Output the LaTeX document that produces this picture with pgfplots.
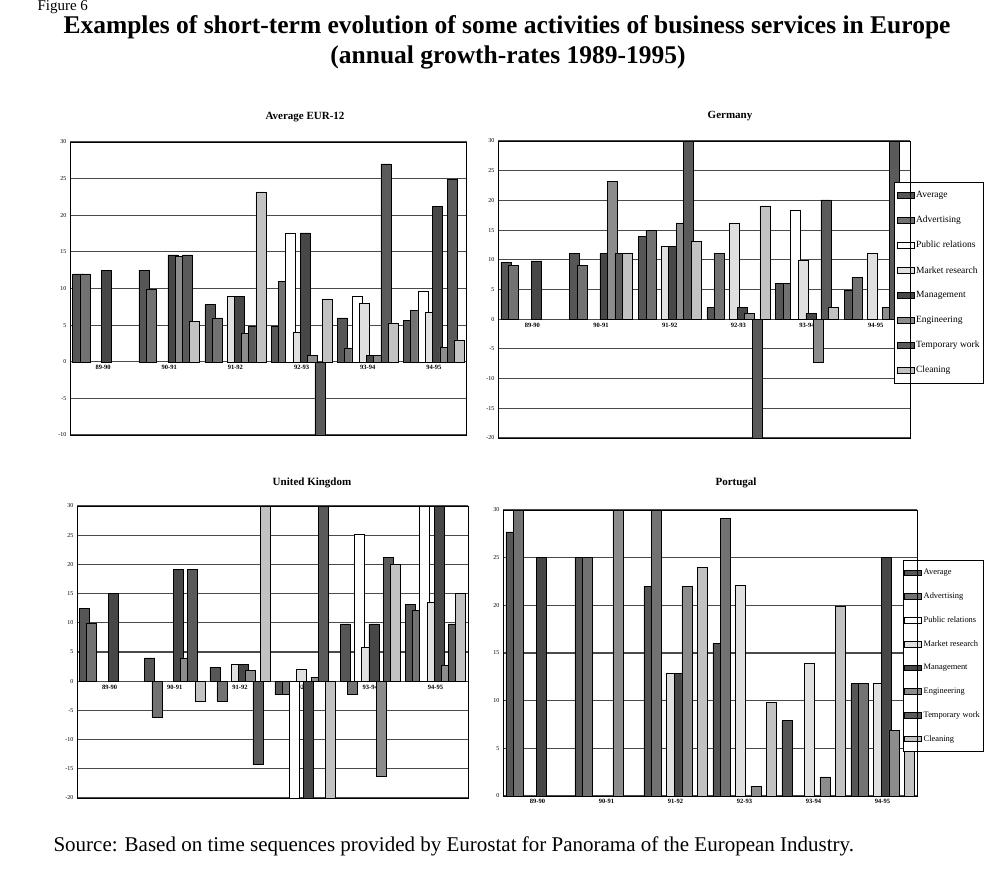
\documentclass[border=0pt]{standalone}
\usepackage{fontspec}
\setmainfont{Liberation Serif}
\usepackage{pgfplots}
\usepackage{pgfplotstable}
\pgfplotsset{compat=1.18}

\definecolor{cAvg}{HTML}{565656}
\definecolor{cAdv}{HTML}{727272}
\definecolor{cPR}{HTML}{FFFFFF}
\definecolor{cMR}{HTML}{E0E0E0}
\definecolor{cMgt}{HTML}{474747}
\definecolor{cEng}{HTML}{8C8C8C}
\definecolor{cTmp}{HTML}{5A5A5A}
\definecolor{cCln}{HTML}{C2C2C2}
\definecolor{gridc}{HTML}{4A4A4A}

% annual growth rates (%), rows = periods, nan = no bar
\pgfplotstableread{
x avg adv pr mr mgmt eng temp clean
0 12.0 12.0 nan nan 12.5 nan nan nan
1 12.5 9.9 nan nan 14.6 14.4 14.6 5.5
2 7.8 6.0 nan 8.9 8.9 3.9 4.8 23.2
3 4.8 11.0 17.6 4.0 17.6 0.9 -12.0 8.6
4 6.0 1.9 9.0 8.0 0.9 0.9 27.0 5.3
5 5.7 7.0 9.6 6.7 21.2 2.0 24.9 3.0
}\eur

\pgfplotstableread{
x avg adv pr mr mgmt eng temp clean
0 9.6 9.0 nan nan 9.8 nan nan nan
1 11.1 9.0 nan nan 11.1 23.2 11.1 11.1
2 14.0 14.9 nan 12.2 12.2 16.2 35.0 13.1
3 2.0 11.1 nan 16.2 2.0 1.0 -25.0 19.1
4 6.0 6.0 18.3 10.0 1.0 -7.2 20.1 2.0
5 4.9 7.0 nan 11.1 nan 2.0 35.0 5.0
}\deu

\pgfplotstableread{
x avg adv pr mr mgmt eng temp clean
0 12.5 9.9 nan nan 15.0 nan nan nan
1 4.0 -6.2 nan nan 19.1 4.0 19.1 -3.4
2 2.4 -3.4 nan 2.9 2.9 1.9 -14.3 35.0
3 -2.3 -2.3 -25.0 2.0 -25.0 0.7 35.0 -25.0
4 9.8 -2.3 25.1 5.8 9.8 -16.2 21.2 20.0
5 13.1 12.1 35.0 13.6 35.0 2.7 9.8 15.0
}\gbr

% Portugal: public relations and temporary work have no bars (0 on the base line)
\pgfplotstableread{
x avg adv pr mr mgmt eng temp clean
0 27.7 35.0 0 nan 25.0 nan 0 nan
1 25.0 25.0 0 nan nan 35.0 0 nan
2 22.0 35.0 0 12.9 12.9 22.0 0 24.0
3 16.0 29.1 0 22.1 nan 1.0 0 9.8
4 7.9 nan 0 13.9 nan 2.0 0 19.9
5 11.8 11.8 0 11.8 25.0 6.9 0 8.0
}\prt

\pgfplotsset{
  gbar/.style={draw=black, line width=0.5pt},
  panel/.style={
    scale only axis, anchor=south west,
    ybar, area legend,
    xmin=-0.5, xmax=5.5,
    xtick={0,...,5},
    xticklabels={89-90,90-91,91-92,92-93,93-94,94-95},
    axis x line*=middle, axis y line*=left,
    every inner x axis line/.append style={-},
    every outer y axis line/.append style={-},
    x axis line style={-, line width=1.1pt, gridc},
    y axis line style={-, line width=1pt},
    ymajorgrids, grid style={gridc, line width=1.1pt},
    major tick length=0pt,
    ytick distance=5,
    /pgf/number format/assume math mode=true,
    yticklabel style={font=\fontsize{6}{6}\selectfont},
    xticklabel style={font=\bfseries\fontsize{6.5}{6.5}\selectfont},
    legend cell align=left,
    legend style={font=\fontsize{9.5}{9.5}\selectfont, draw=black, fill=white,
      row sep=13pt, inner xsep=2pt, inner ysep=7pt},
  },
}

\newcommand{\allbars}[1]{%
  \addplot[gbar, fill=cAvg, bar shift=-0.385] table[x=x, y=avg] {#1};
  \addplot[gbar, fill=cAdv, bar shift=-0.275] table[x=x, y=adv] {#1};
  \addplot[gbar, fill=cPR,  bar shift=-0.165] table[x=x, y=pr] {#1};
  \addplot[gbar, fill=cMR,  bar shift=-0.055] table[x=x, y=mr] {#1};
  \addplot[gbar, fill=cMgt, bar shift=0.055]  table[x=x, y=mgmt] {#1};
  \addplot[gbar, fill=cEng, bar shift=0.165]  table[x=x, y=eng] {#1};
  \addplot[gbar, fill=cTmp, bar shift=0.275]  table[x=x, y=temp] {#1};
  \addplot[gbar, fill=cCln, bar shift=0.385]  table[x=x, y=clean] {#1};
}
\newcommand{\legendlist}{\legend{Average,Advertising,Public relations,Market research,Management,Engineering,Temporary work,Cleaning}}

\begin{document}
\begin{tikzpicture}
\path[use as bounding box] (0pt,0pt) rectangle (987pt,-870pt);

\node[anchor=base west, font=\fontsize{15}{15}\selectfont] at (34pt,-10pt) {Figure 6};
\node[font=\bfseries\fontsize{25.5}{25.5}\selectfont] at (507pt,-27pt)
  {Examples of short-term evolution of some activities of business services in Europe};
\node[font=\bfseries\fontsize{25.5}{25.5}\selectfont] at (508pt,-57pt)
  {(annual growth-rates 1989-1995)};

\node[font=\bfseries\fontsize{11}{11}\selectfont] at (305pt,-117pt) {Average EUR-12};
\node[font=\bfseries\fontsize{11}{11}\selectfont] at (730pt,-116pt) {Germany};
\node[font=\bfseries\fontsize{11}{11}\selectfont] at (312pt,-483pt) {United Kingdom};
\node[font=\bfseries\fontsize{11}{11}\selectfont] at (736pt,-483pt) {Portugal};

% Average EUR-12
\begin{axis}[panel, name=eur, at={(70pt,-435pt)}, width=397pt, height=293pt,
    ymin=-10, ymax=30]
  \allbars{\eur}
\end{axis}
\draw[line width=1pt] (eur.south west) rectangle (eur.north east);

% Germany
\begin{axis}[panel, name=deu, at={(498pt,-438pt)}, width=412pt, height=297pt,
    ymin=-20, ymax=30,
    legend style={at={(0.962,0.861)}, anchor=north west}]
  \allbars{\deu}
  \legendlist
\end{axis}
\draw[line width=1pt] (deu.south west) rectangle (deu.north east);

% United Kingdom
\begin{axis}[panel, name=gbr, at={(77pt,-798pt)}, width=391pt, height=292pt,
    ymin=-20, ymax=30]
  \allbars{\gbr}
\end{axis}
\draw[line width=1pt] (gbr.south west) rectangle (gbr.north east);

% Portugal
\begin{axis}[panel, name=prt, at={(503pt,-796pt)}, width=414pt, height=286pt,
    ymin=0, ymax=30,
    legend style={at={(0.966,0.825)}, anchor=north west,
      font=\fontsize{8.4}{8.4}\selectfont, inner xsep=1pt, row sep=12.5pt}]
  \allbars{\prt}
  \legendlist
\end{axis}
\draw[line width=1pt] (prt.south west) rectangle (prt.north east);

\node[anchor=west, font=\fontsize{21}{21}\selectfont] at (50pt,-846pt)
  {Source: Based on time sequences provided by Eurostat for Panorama of the European Industry.};
\end{tikzpicture}
\end{document}
